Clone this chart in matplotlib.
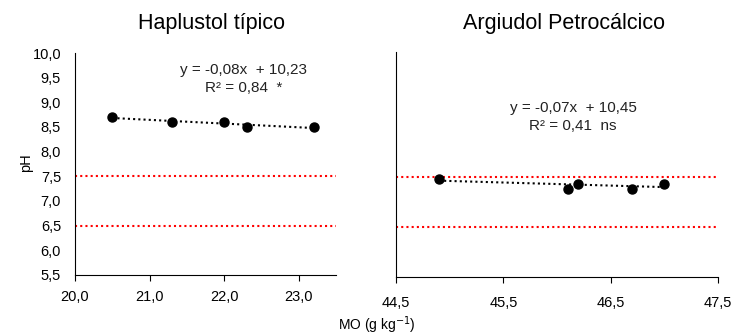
import numpy as np
import matplotlib.pyplot as plt

plt.rcParams['font.family'] = ['Liberation Sans', 'DejaVu Sans']

# Haplustol típico
mo_hap = [20.5, 21.3, 22.0, 22.3, 23.2]
ph_hap = [8.70, 8.60, 8.60, 8.50, 8.50]
# Argiudol Petrocálcico
mo_arg = [44.9, 46.1, 46.2, 46.7, 47.0]
ph_arg = [7.46, 7.27, 7.37, 7.27, 7.37]

limites_ph = [7.5, 6.5]

W, H = 735, 335
fig = plt.figure(figsize=(7.35, 3.35), dpi=100)
ax1 = fig.add_axes([75 / W, 1 - 275 / H, 261 / W, 222 / H])
ax2 = fig.add_axes([396 / W, 1 - 277 / H, 322 / W, 225 / H])


def px(x, y):
    return x / W, 1 - y / H


def panel(ax, x, y, titulo, t_pos, xlim, xticks, eq, r2, eq_pos):
    ax.plot(x, y, 'o', color='black', markersize=6.5, zorder=3)
    a, b = np.polyfit(x, y, 1)
    xs = np.array([min(x), max(x)])
    ax.plot(xs, a * xs + b, color='black', linestyle=(0, (1, 1.5)), lw=1.5)
    for lim in limites_ph:
        ax.axhline(lim, color='red', linestyle=(0, (1, 1.5)), lw=1.5)
    ax.set_xlim(xlim)
    ax.set_ylim(5.5, 10.0)
    ax.set_xticks(xticks)
    ax.set_xticklabels([('%.1f' % t).replace('.', ',') for t in xticks])
    ax.spines['top'].set_visible(False)
    ax.spines['right'].set_visible(False)
    ax.tick_params(axis='x', direction='out', length=4, labelsize=10.5, pad=7)
    fig.text(*px(*t_pos), titulo, fontsize=15.5, ha='center', va='center')
    fig.text(*px(eq_pos[0], eq_pos[1]), eq, ha='center', va='center',
             fontsize=11, color='#222222')
    fig.text(*px(eq_pos[0], eq_pos[1] + 18), r2, ha='center', va='center',
             fontsize=11, color='#222222')


panel(ax1, mo_hap, ph_hap, 'Haplustol típico', (211, 23), (20.0, 23.5),
      [20.0, 21.0, 22.0, 23.0], 'y = -0,08x  + 10,23', 'R² = 0,84  *', (244, 70))
yt = np.arange(5.5, 10.01, 0.5)
ax1.set_yticks(yt)
ax1.set_yticklabels([('%.1f' % t).replace('.', ',') for t in yt])
ax1.tick_params(axis='y', length=0, labelsize=10.5, pad=10)
fig.text(*px(26, 163), 'pH', rotation=90, ha='center', va='center', fontsize=10.5)

panel(ax2, mo_arg, ph_arg, 'Argiudol Petrocálcico', (564, 23), (44.5, 47.5),
      [44.5, 45.5, 46.5, 47.5], 'y = -0,07x  + 10,45', 'R² = 0,41  ns', (573, 108))
ax2.set_yticks([])
ax2.tick_params(axis='x', pad=10)

fig.text(*px(377, 330), 'MO (g kg$^{-1}$)', ha='center', va='baseline', fontsize=10)

fig.savefig('out.png', dpi=100)
